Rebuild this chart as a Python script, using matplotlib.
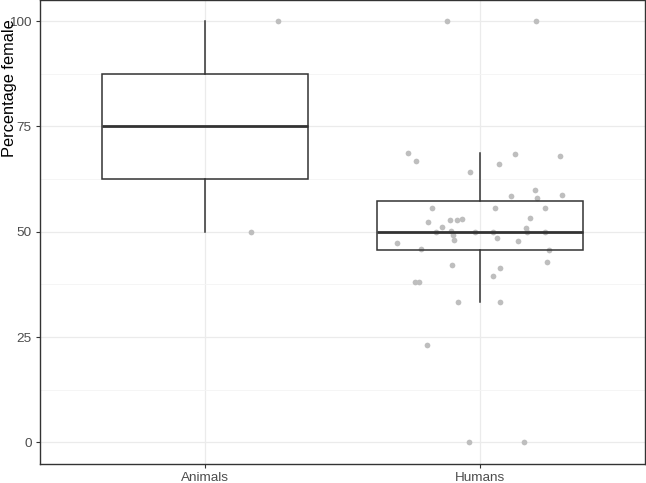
#!/usr/bin/env python3
import matplotlib
matplotlib.use("Agg")
import matplotlib.pyplot as plt
import numpy as np

plt.rcParams["font.family"] = ["Liberation Sans", "DejaVu Sans"]

groups = ["Animals", "Humans"]

# values used for the boxes
animals_values = [50, 75, 100]
humans_values = [68.6, 66.7, 64.1, 68.5, 67.9, 66.1, 58.6, 60.0, 57.9, 58.8,
                 55.6, 55.6, 55.6, 52.4, 52.8, 52.7, 53.1, 53.3, 51.2, 50.0,
                 50.1, 49.2, 48.0, 50.0, 50.0, 48.6, 50.8, 50.0, 50.0, 47.8,
                 47.4, 46.0, 45.7, 42.9, 42.2, 41.4, 39.6, 38.0, 38.0, 33.3,
                 33.3, 23.1, 0.0, 0.0, 100.0, 100.0]

# jittered points as they appear (pixel x -> category offset)
animals_pts_y = [100, 50]
animals_pts_px = [277, 250]
humans_pts_px = [408, 416, 470, 515, 560, 499, 511, 535, 537, 562,
                 432, 495, 545, 428, 450, 457, 462, 530, 442, 436,
                 451, 453, 454, 475, 493, 497, 526, 527, 545, 518,
                 397, 421, 549, 547, 452, 500, 493, 415, 419, 458,
                 500, 427, 469, 524, 447, 536]

anim_x = [1 + (p - 204) / 276 for p in animals_pts_px]
hum_x = [2 + (p - 480) / 276 for p in humans_pts_px]

fig = plt.figure(figsize=(6.46, 4.83), dpi=100)
ax = fig.add_axes([40 / 646, 19.5 / 483, 605 / 646, 463.5 / 483])

grid_col = "#ebebeb"
ax.set_axisbelow(True)
ax.set_yticks([0, 25, 50, 75, 100])
ax.set_yticks([12.5, 37.5, 62.5, 87.5], minor=True)
ax.grid(which="major", color=grid_col, lw=0.9)
ax.grid(which="minor", axis="y", color="#f4f4f4", lw=0.6)

ax.scatter(anim_x, animals_pts_y, s=17, color="#bebebe", lw=0, zorder=2)
ax.scatter(hum_x, humans_values, s=17, color="#bebebe", lw=0, zorder=2)

box_col = "#333333"
ax.boxplot([animals_values, humans_values], positions=[1, 2], widths=0.75,
           whis=1.5, showfliers=False, patch_artist=True,
           boxprops=dict(facecolor="none", edgecolor=box_col, lw=1.1),
           whiskerprops=dict(color=box_col, lw=1.1),
           capprops=dict(lw=0),
           medianprops=dict(color=box_col, lw=2.0),
           zorder=3)

ax.set_xlim(0.4, 2.6)
ax.set_ylim(-5, 105)
ax.set_xticks([1, 2])
ax.set_xticklabels(groups)
ax.tick_params(axis="both", colors="#333333", length=3, width=0.8,
               labelsize=9.7, labelcolor="#4d4d4d", pad=3)
ax.tick_params(which="minor", length=0)
for s in ax.spines.values():
    s.set_color("#333333")
    s.set_linewidth(1.0)

fig.text(10 / 646, 1 - 88 / 483, "Percentage female", rotation=90,
         ha="center", va="center", fontsize=11.8, color="black")

fig.savefig("out.png", dpi=100)
